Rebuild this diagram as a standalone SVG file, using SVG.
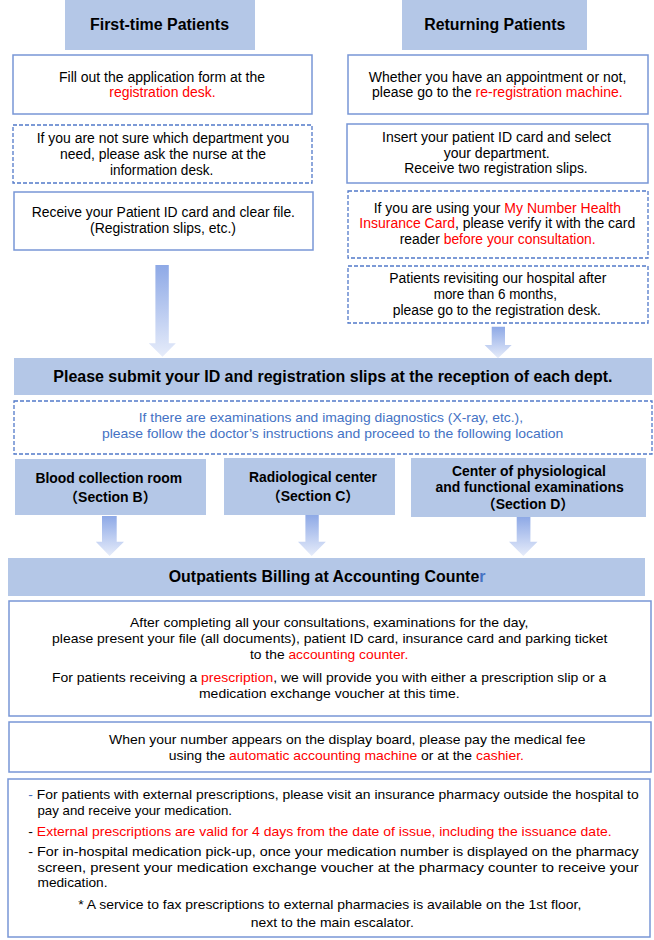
<svg xmlns="http://www.w3.org/2000/svg" width="654" height="940" viewBox="0 0 654 940">
<style>
text{font-family:"Liberation Sans",Arial,"Noto Sans CJK JP",sans-serif;font-size:14px;fill:#000}
.b{font-weight:bold;font-size:16px}
.s{font-weight:bold;font-size:14px}
.m{font-size:13.5px}
.r{fill:#ff0000}
.bl{fill:#4472c4}
.hdr{fill:#b4c7e7}
.box{fill:#fff;stroke:#7896d6;stroke-width:1.5}
.dash{fill:#fff;stroke:#5279c9;stroke-width:1.3;stroke-dasharray:4 2}
.arr{fill:url(#g)}
</style>
<defs>
<linearGradient id="g" x1="0" y1="0" x2="0" y2="1">
<stop offset="0" stop-color="#8ea9e6"/>
<stop offset="1" stop-color="#e6ecfa"/>
</linearGradient>
</defs>
<rect width="654" height="940" fill="#fff"/>

<g id="hdr-first">
<rect class="hdr" x="65" y="0" width="190" height="50"/>
<text class="b" x="90" y="30" textLength="139" lengthAdjust="spacingAndGlyphs">First-time Patients</text>
</g>
<g id="hdr-return">
<rect class="hdr" x="402" y="0" width="185" height="50"/>
<text class="b" x="424.3" y="30" textLength="141" lengthAdjust="spacingAndGlyphs">Returning Patients</text>
</g>

<g id="l1">
<rect class="box" x="13" y="55" width="299" height="59"/>
<text x="59" y="81.7" textLength="206" lengthAdjust="spacingAndGlyphs">Fill out the application form at the</text>
<text class="r" x="109.3" y="96.7" textLength="106.4" lengthAdjust="spacingAndGlyphs">registration desk.</text>
</g>
<g id="l2">
<rect class="dash" x="13" y="125" width="299" height="58"/>
<text x="36.7" y="143.3" textLength="252.6" lengthAdjust="spacingAndGlyphs">If you are not sure which department you</text>
<text x="60" y="159.3" textLength="206" lengthAdjust="spacingAndGlyphs">need, please ask the nurse at the</text>
<text x="110" y="175" textLength="103.3" lengthAdjust="spacingAndGlyphs">information desk.</text>
</g>
<g id="l3">
<rect class="box" x="14" y="192" width="299" height="58"/>
<text x="31.7" y="217.3" textLength="263.3" lengthAdjust="spacingAndGlyphs">Receive your Patient ID card and clear file.</text>
<text x="90" y="232.7" textLength="146" lengthAdjust="spacingAndGlyphs">(Registration slips, etc.)</text>
</g>

<g id="r1">
<rect class="box" x="348" y="55" width="300" height="59"/>
<text x="368.7" y="81.7" textLength="257.6" lengthAdjust="spacingAndGlyphs">Whether you have an appointment or not,</text>
<text x="372" y="96.7" textLength="250.7" lengthAdjust="spacingAndGlyphs">please go to the <tspan class="r">re-registration machine.</tspan></text>
</g>
<g id="r2">
<rect class="box" x="347" y="124" width="301" height="59"/>
<text x="382" y="141.7" textLength="229" lengthAdjust="spacingAndGlyphs">Insert your patient ID card and select</text>
<text x="443.7" y="157.7" textLength="106" lengthAdjust="spacingAndGlyphs">your department.</text>
<text x="404.3" y="173.3" textLength="183.4" lengthAdjust="spacingAndGlyphs">Receive two registration slips.</text>
</g>
<g id="r3">
<rect class="dash" x="348" y="191" width="300" height="67"/>
<text x="373.7" y="213.3" textLength="247.3" lengthAdjust="spacingAndGlyphs">If you are using your <tspan class="r">My Number Health</tspan></text>
<text x="359.3" y="228.3" textLength="276" lengthAdjust="spacingAndGlyphs"><tspan class="r">Insurance Card</tspan>, please verify it with the card</text>
<text x="399.7" y="244.3" textLength="196" lengthAdjust="spacingAndGlyphs">reader <tspan class="r">before your consultation.</tspan></text>
</g>
<g id="r4">
<rect class="dash" x="348" y="266" width="300" height="57"/>
<text x="389.3" y="283.3" textLength="217" lengthAdjust="spacingAndGlyphs">Patients revisiting our hospital after</text>
<text x="433.7" y="299.3" textLength="123.3" lengthAdjust="spacingAndGlyphs">more than 6 months,</text>
<text x="392.7" y="315" textLength="208.3" lengthAdjust="spacingAndGlyphs">please go to the registration desk.</text>
</g>

<g id="submit">
<rect class="hdr" x="14" y="358" width="638" height="37"/>
<text class="b" x="53.3" y="382.3" textLength="559.2" lengthAdjust="spacingAndGlyphs">Please submit your ID and registration slips at the reception of each dept.</text>
</g>
<g id="exam-note">
<rect class="dash" x="14" y="401" width="638" height="53"/>
<text class="bl m" x="138.75" y="421.7" textLength="384.3" lengthAdjust="spacingAndGlyphs">If there are examinations and imaging diagnostics (X-ray, etc.),</text>
<text class="bl m" x="102" y="437.7" textLength="461.3" lengthAdjust="spacingAndGlyphs">please follow the doctor’s instructions and proceed to the following location</text>
</g>

<g id="sec-b">
<rect class="hdr" x="15" y="459" width="191" height="56"/>
<text class="s" x="35.4" y="483.3" textLength="146.6" lengthAdjust="spacingAndGlyphs">Blood collection room</text>
<text class="s" x="110.4" y="501.7" text-anchor="middle">（Section B）</text>
</g>
<g id="sec-c">
<rect class="hdr" x="224" y="458" width="171" height="57"/>
<text class="s" x="249" y="482.3" textLength="128" lengthAdjust="spacingAndGlyphs">Radiological center</text>
<text class="s" x="313" y="500.7" text-anchor="middle">（Section C）</text>
</g>
<g id="sec-d">
<rect class="hdr" x="411" y="458" width="235" height="59"/>
<text class="s" x="452" y="476" textLength="154" lengthAdjust="spacingAndGlyphs">Center of physiological</text>
<text class="s" x="435.4" y="491.7" textLength="188.3" lengthAdjust="spacingAndGlyphs">and functional examinations</text>
<text class="s" x="528" y="509" text-anchor="middle">（Section D）</text>
</g>

<g id="billing">
<rect class="hdr" x="8" y="558" width="637" height="38"/>
<text class="b" x="168.75" y="581.7" textLength="316.7" lengthAdjust="spacingAndGlyphs">Outpatients Billing at Accounting Counte<tspan fill="#4472c4">r</tspan></text>
</g>

<g id="box-a">
<rect class="box" x="9" y="601" width="642" height="115"/>
<text class="m" x="130" y="627.3" textLength="398.3" lengthAdjust="spacingAndGlyphs">After completing all your consultations, examinations for the day,</text>
<text class="m" x="52" y="643.3" textLength="555.5" lengthAdjust="spacingAndGlyphs">please present your file (all documents), patient ID card, insurance card and parking ticket</text>
<text class="m" x="250" y="659.3" textLength="158.3" lengthAdjust="spacingAndGlyphs">to the <tspan class="r">accounting counter.</tspan></text>
<text class="m" x="52" y="682.3" textLength="554.2" lengthAdjust="spacingAndGlyphs">For patients receiving a <tspan class="r">prescription</tspan>, we will provide you with either a prescription slip or a</text>
<text class="m" x="199" y="697.7" textLength="260.6" lengthAdjust="spacingAndGlyphs">medication exchange voucher at this time.</text>
</g>
<g id="box-b">
<rect class="box" x="9" y="722" width="642" height="50"/>
<text class="m" x="109" y="744" textLength="476.4" lengthAdjust="spacingAndGlyphs">When your number appears on the display board, please pay the medical fee</text>
<text class="m" x="168.75" y="760" textLength="355.2" lengthAdjust="spacingAndGlyphs">using the <tspan class="r">automatic accounting machine</tspan> or at the <tspan class="r">cashier.</tspan></text>
</g>
<g id="box-c">
<rect class="box" x="8" y="779" width="642" height="158"/>
<text class="m" x="28.3" y="799.3" textLength="610.4" lengthAdjust="spacingAndGlyphs"><tspan class="bl">-</tspan> For patients with external prescriptions, please visit an insurance pharmacy outside the hospital to</text>
<text class="m" x="37.5" y="815" textLength="194.5" lengthAdjust="spacingAndGlyphs">pay and receive your medication.</text>
<text class="m" x="28.3" y="835.7" textLength="583.4" lengthAdjust="spacingAndGlyphs">- <tspan class="r">External prescriptions are valid for 4 days from the date of issue, including the issuance date.</tspan></text>
<text class="m" x="28.3" y="856" textLength="610.4" lengthAdjust="spacingAndGlyphs">- For in-hospital medication pick-up, once your medication number is displayed on the pharmacy</text>
<text class="m" x="37.5" y="871.7" textLength="601.2" lengthAdjust="spacingAndGlyphs">screen, present your medication exchange voucher at the pharmacy counter to receive your</text>
<text class="m" x="37.5" y="887.3" textLength="70" lengthAdjust="spacingAndGlyphs">medication.</text>
<text class="m" x="78.3" y="909.3" textLength="503" lengthAdjust="spacingAndGlyphs">* A service to fax prescriptions to external pharmacies is available on the 1st floor,</text>
<text class="m" x="250.8" y="926.7" textLength="163" lengthAdjust="spacingAndGlyphs">next to the main escalator.</text>
</g>

<g id="connectors">
<polygon class="arr" points="155.4,265 168.8,265 168.8,343.3 175.8,343.3 162.5,356.7 148.8,343.3 155.4,343.3"/>
<polygon class="arr" points="491.7,326.7 505,326.7 505,345 511.7,345 498,358.3 484.6,345 491.7,345"/>
<polygon class="arr" points="102,516 116.7,516 116.7,541.7 124,541.7 109.6,556 95.8,541.7 102,541.7"/>
<polygon class="arr" points="305.4,515 318.75,515 318.75,541.7 325.8,541.7 311.7,556 298,541.7 305.4,541.7"/>
<polygon class="arr" points="516.7,517 530.4,517 530.4,541.7 537.5,541.7 523.3,556 509,541.7 516.7,541.7"/>
</g>
</svg>
